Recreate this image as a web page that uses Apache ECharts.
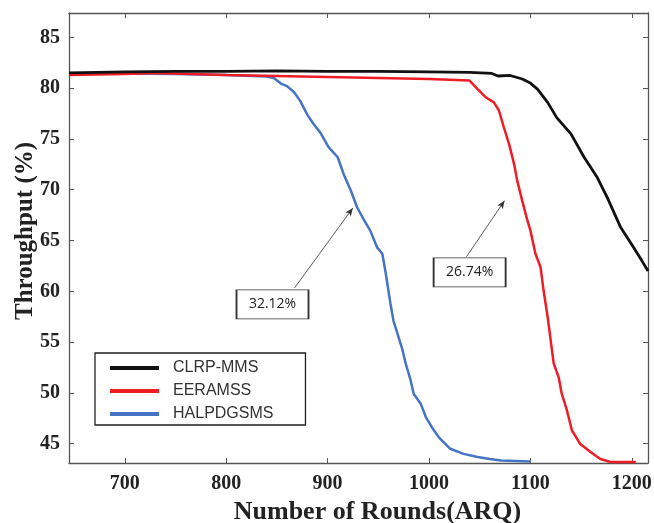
<!DOCTYPE html>
<html>
<head>
<meta charset="utf-8">
<script src="https://cdn.jsdelivr.net/npm/echarts@6/dist/echarts.min.js"></script>
<style>
  html, body { margin: 0; padding: 0; background: #fff; }
  #main { width: 654px; height: 523px; }
</style>
</head>
<body>
<div id="main"></div>
<script>
// tick values
const xTicks = [700, 800, 900, 1000, 1100, 1200];
const yTicks = [45, 50, 55, 60, 65, 70, 75, 80, 85];

// CLRP-MMS (rounds, throughput %)
const clrpX = [645, 700, 750, 800, 850, 900, 950, 1000, 1040, 1062, 1068, 1080, 1092, 1100, 1107, 1117, 1126, 1140, 1153, 1166, 1176, 1189, 1202, 1210, 1216];
const clrpY = [81.5, 81.6, 81.65, 81.65, 81.7, 81.65, 81.65, 81.6, 81.55, 81.45, 81.2, 81.25, 80.9, 80.5, 79.9, 78.6, 77.1, 75.5, 73.2, 71.2, 69.2, 66.3, 64.3, 63.0, 62.0];

// EERAMSS
const eeraX = [645, 700, 730, 800, 900, 1000, 1040, 1048, 1056, 1064, 1069, 1074, 1079, 1084, 1087, 1092, 1097, 1100, 1105, 1110, 1113, 1117, 1120, 1123, 1128, 1131, 1136, 1141, 1149, 1159, 1169, 1179, 1204];
const eeraY = [81.3, 81.4, 81.5, 81.3, 81.1, 80.9, 80.75, 79.9, 79.1, 78.6, 77.8, 76.1, 74.5, 72.5, 70.9, 68.9, 67.0, 66.0, 63.7, 62.4, 60.1, 57.5, 55.2, 52.9, 51.5, 49.9, 48.3, 46.3, 45.0, 44.2, 43.5, 43.2, 43.2];

// HALPDGSMS
const halpX = [645, 700, 750, 800, 840, 847, 854, 860, 867, 873, 880, 886, 893, 901, 910, 916, 923, 929, 936, 942, 949, 954, 957, 962, 965, 970, 974, 977, 982, 985, 992, 997, 1003, 1010, 1021, 1034, 1048, 1060, 1071, 1100];
const halpY = [81.4, 81.45, 81.4, 81.3, 81.15, 81.0, 80.45, 80.2, 79.6, 78.75, 77.4, 76.5, 75.6, 74.2, 73.2, 71.5, 69.9, 68.3, 67.0, 66.0, 64.3, 63.7, 62.0, 58.8, 57.1, 55.5, 54.2, 52.9, 51.2, 49.9, 48.9, 47.6, 46.6, 45.6, 44.5, 44.0, 43.7, 43.5, 43.35, 43.25];

// annotations: [label, box centre x, box centre y, arrow start x, y, arrow end x, y]
const notes = [
  ['32.12%', 845.7, 58.72, 867.4, 60.33, 924.9, 68.2],
  ['26.74%', 1040.1, 61.87, 1037, 63.41, 1074.5, 68.92]
];

const zip = (xs, ys) => xs.map((x, i) => [x, ys[i]]);

const chart = echarts.init(document.getElementById('main'));

const serif = '"Liberation Serif", "Times New Roman", serif';
const axisLineStyle = { color: '#555', width: 1.3 };
const tickStyle = { color: '#555', width: 1 };

const frameAxis = (extra) => Object.assign({
  type: 'value',
  axisLine: { show: true, lineStyle: axisLineStyle },
  axisLabel: { show: false },
  splitLine: { show: false }
}, extra);

chart.setOption({
  animation: false,
  backgroundColor: '#fff',
  grid: { left: 69, right: 6, top: 13, bottom: 60, outerBoundsMode: 'none', containLabel: false },
  legend: {
    orient: 'vertical',
    left: 95,
    top: 353,
    icon: 'rect',
    itemWidth: 49,
    itemHeight: 4,
    itemGap: 7,
    padding: [7, 32, 3, 15],
    borderColor: '#222',
    borderWidth: 1.3,
    textStyle: { fontFamily: '"Liberation Sans", Arial, sans-serif', fontSize: 16, color: '#333', padding: [0, 0, 0, 9] },
    data: ['CLRP-MMS', 'EERAMSS', 'HALPDGSMS']
  },
  xAxis: [
    frameAxis({
      min: 645, max: 1216,
      position: 'bottom',
      axisTick: { show: true, inside: true, length: 5, customValues: xTicks, lineStyle: tickStyle },
      axisLabel: {
        show: true, customValues: xTicks, margin: 11,
        formatter: v => String(v),
        fontFamily: serif, fontWeight: 'bold', fontSize: 20, color: '#222'
      },
      name: 'Number of Rounds(ARQ)',
      nameLocation: 'middle',
      nameGap: 34,
      nameTextStyle: { fontFamily: serif, fontWeight: 'bold', fontSize: 26, color: '#222', padding: [0, 0, 0, 38] }
    }),
    frameAxis({
      min: 645, max: 1216,
      position: 'top',
      axisTick: { show: true, inside: true, length: 5, customValues: xTicks, lineStyle: tickStyle }
    })
  ],
  yAxis: [
    frameAxis({
      min: 43.1, max: 87.4,
      position: 'left',
      axisTick: { show: true, inside: true, length: 5, customValues: yTicks, lineStyle: tickStyle },
      axisLabel: {
        show: true, customValues: yTicks, margin: 9,
        formatter: v => String(v),
        fontFamily: serif, fontWeight: 'bold', fontSize: 20, color: '#222'
      },
      name: 'Throughput (%)',
      nameLocation: 'middle',
      nameGap: 31,
      nameRotate: 90,
      nameMoveOverlap: false,
      nameTextStyle: { fontFamily: serif, fontWeight: 'bold', fontSize: 25, color: '#222', padding: [0, 0, 0, 14] }
    }),
    frameAxis({
      min: 43.1, max: 87.4,
      position: 'right',
      axisTick: { show: true, inside: true, length: 5, customValues: yTicks, lineStyle: tickStyle }
    })
  ],
  series: [
    {
      name: 'CLRP-MMS', type: 'line', showSymbol: false,
      data: zip(clrpX, clrpY),
      itemStyle: { color: '#111' },
      lineStyle: { color: '#111', width: 2.8 },
      z: 3
    },
    {
      name: 'EERAMSS', type: 'line', showSymbol: false,
      data: zip(eeraX, eeraY),
      itemStyle: { color: '#ee1d25' },
      lineStyle: { color: '#ee1d25', width: 2.5 },
      z: 2
    },
    {
      name: 'HALPDGSMS', type: 'line', showSymbol: false,
      data: zip(halpX, halpY),
      itemStyle: { color: '#4574c4' },
      lineStyle: { color: '#4574c4', width: 2.5 },
      z: 1,
      markLine: {
        silent: true,
        symbol: ['none', 'arrow'],
        symbolSize: [5, 8],
        label: { show: false },
        lineStyle: { color: '#333', width: 0.8, type: 'solid' },
        data: notes.map(n => [{ coord: [n[3], n[4]] }, { coord: [n[5], n[6]] }])
      },
      markPoint: {
        silent: true,
        symbol: 'rect',
        symbolSize: [72, 29],
        itemStyle: { color: '#fff', borderColor: '#333', borderWidth: 1.2 },
        label: {
          show: true, position: 'inside',
          fontFamily: '"Open Sans", "Noto Sans", sans-serif', fontSize: 14, color: '#222'
        },
        data: notes.map(n => ({ coord: [n[1], n[2]], value: n[0], label: { formatter: n[0] } }))
      }
    }
  ]
});
</script>
</body>
</html>
